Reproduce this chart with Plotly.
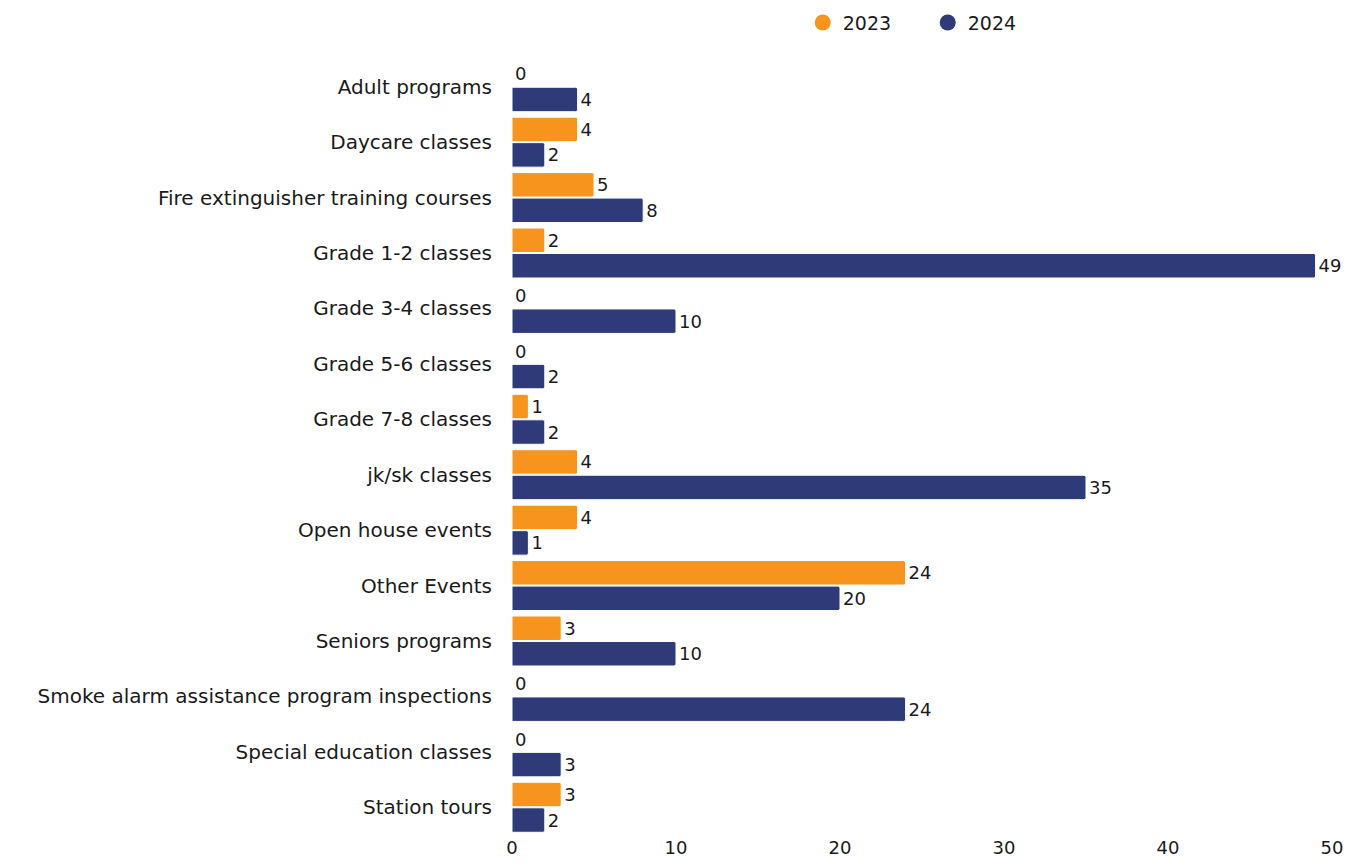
import plotly.graph_objects as go

categories = ['Adult programs', 'Daycare classes', 'Fire extinguisher training courses',
              'Grade 1-2 classes', 'Grade 3-4 classes', 'Grade 5-6 classes',
              'Grade 7-8 classes', 'jk/sk classes', 'Open house events', 'Other Events',
              'Seniors programs', 'Smoke alarm assistance program inspections',
              'Special education classes', 'Station tours']
values_2023 = [0, 4, 5, 2, 0, 0, 1, 4, 4, 24, 3, 0, 0, 3]
values_2024 = [4, 2, 8, 49, 10, 2, 2, 35, 1, 20, 10, 24, 3, 2]
x_ticks = [0, 10, 20, 30, 40, 50]

ORANGE = '#F7941D'
NAVY = '#2E3B78'
FONT = 'DejaVu Sans'

fig = go.Figure()
for name, vals, col in [('2023', values_2023, ORANGE), ('2024', values_2024, NAVY)]:
    fig.add_trace(go.Bar(
        y=categories, x=vals, orientation='h', name=name,
        marker=dict(color=col, cornerradius=2, line=dict(color='white', width=1)),
        text=vals, textposition='outside', cliponaxis=False,
        textfont=dict(size=18, color='#1a1a1a', family=FONT),
        showlegend=False,
    ))
    # circle swatch for the legend
    fig.add_trace(go.Scatter(
        x=[None], y=[None], mode='markers', name=name,
        marker=dict(symbol='circle', size=22, color=col),
    ))

# the page body adds an 8px offset, so margins are shifted by 8
fig.update_layout(
    width=1361, height=863,
    barmode='group', bargap=0.08, bargroupgap=0.04,
    plot_bgcolor='white', paper_bgcolor='white',
    font=dict(family=FONT, size=18, color='#1a1a1a'),
    margin=dict(l=504, r=37, t=51, b=36),
    legend=dict(orientation='h', x=0.507, xanchor='center', y=0.983, yanchor='middle',
                yref='container', font=dict(size=19), itemsizing='trace',
                entrywidth=80, traceorder='normal'),
)
fig.update_xaxes(range=[0, 50], tickvals=x_ticks, showgrid=False, zeroline=False,
                 showline=False, ticks='', automargin=False, tickfont=dict(size=18))
fig.update_yaxes(autorange='reversed', showgrid=False, ticks='', showline=False,
                 automargin=False, ticksuffix='   ', tickfont=dict(size=20))

fig.write_html('out.html')
